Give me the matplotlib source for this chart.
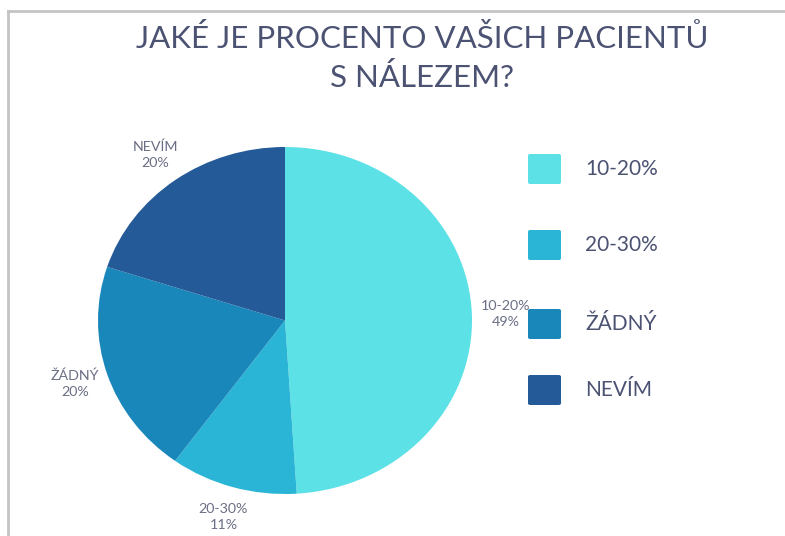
import numpy as np
import matplotlib.pyplot as plt
from matplotlib.lines import Line2D
from matplotlib.patches import FancyBboxPatch

plt.rcParams['font.family'] = ['Lato', 'DejaVu Sans']

categories = ['10-20%', '20-30%', 'ŽÁDNÝ', 'NEVÍM']
shares = [49, 11, 20, 20]
colors = ['#5ce1e6', '#2ab4d5', '#1a87bb', '#255a98']
title = 'JAKÉ JE PROCENTO VAŠICH PACIENTŮ\nS NÁLEZEM?'

W, H = 785, 536
fig = plt.figure(figsize=(W / 100, H / 100), dpi=100)
fig.patch.set_facecolor('white')

# pie area (slightly wider than tall)
px0, px1, py0, py1 = 98, 472, 147, 494
ax = fig.add_axes([px0 / W, 1 - py1 / H, (px1 - px0) / W, (py1 - py0) / H])
wedges, _ = ax.pie(shares, colors=colors, startangle=90, counterclock=False,
                   wedgeprops=dict(linewidth=0))
ax.set_aspect('auto')
ax.set_xlim(-1, 1)
ax.set_ylim(-1, 1)
ax.axis('off')

text_col = '#6b6f85'
for w, cat, v in zip(wedges, categories, shares):
    ang = np.deg2rad((w.theta1 + w.theta2) / 2)
    r = 1.18
    ax.text(r * np.cos(ang), r * np.sin(ang), f'{cat}\n{v}%',
            ha='center', va='center', fontsize=10.3, color=text_col,
            linespacing=1.45)

fig.text(0.538, 1 - 58 / H, title, ha='center', va='center', fontsize=22.5,
         color='#4b5272', linespacing=1.45)

# legend squares and labels
leg_y = [169, 245, 324, 390]
for cat, c, y in zip(categories, colors, leg_y):
    sq = FancyBboxPatch((528 / W, 1 - (y + 15) / H), 33 / W, 30 / H,
                        boxstyle='round,pad=0,rounding_size=0.003',
                        transform=fig.transFigure, facecolor=c, edgecolor='none')
    fig.add_artist(sq)
    fig.text(585 / W, 1 - y / H, cat, ha='left', va='center', fontsize=15,
             color='#4b5272')

# frame lines on top and left
edge = '#c4c4c4'
fig.add_artist(Line2D([7.5 / W, 7.5 / W], [0, 1 - 11 / H], color=edge, lw=2))
fig.add_artist(Line2D([7.5 / W, 1], [1 - 11 / H, 1 - 11 / H], color=edge, lw=2))

fig.savefig('out.png', dpi=100)
